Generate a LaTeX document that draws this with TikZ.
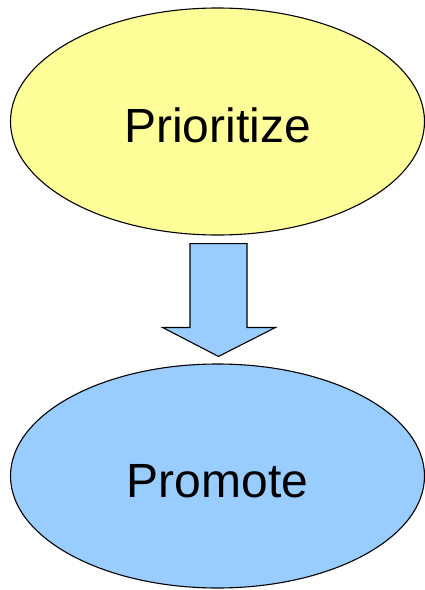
\documentclass[tikz,border=0pt]{standalone}
\usepackage{fontspec}
\setmainfont{Liberation Sans}
\usetikzlibrary{shapes, arrows.meta, positioning, calc}
\definecolor{stepyellow}{HTML}{FFFF99}
\definecolor{stepblue}{HTML}{99CCFF}

\begin{document}
\begin{tikzpicture}[x=1pt,y=-1pt,
        phase/.style={draw,ellipse,line width=1.1pt,minimum width=414pt,
          inner sep=0pt,font=\fontsize{48}{48}\selectfont,
          text height=42pt,text depth=0pt},
        blockarrow/.style={draw,line width=1.1pt,fill=stepblue,line join=miter}]
      \useasboundingbox (0,0) rectangle (425,590);
      \node[phase,fill=stepyellow,minimum height=227pt] (prio) at (217.5,121.5) {Prioritize};
      \node[phase,fill=stepblue,minimum height=224pt] (promo) at (217.5,476) {Promote};
      \coordinate (start) at ($(prio.south)+(1,8)$);
      \coordinate (tip) at ($(promo.north)+(1,-7)$);
      \draw[blockarrow] ($(start)+(-28.5,0)$) -- ($(start)+(28.5,0)$)
        -- ($(tip)+(28.5,-29)$) -- ($(tip)+(57,-29)$) -- (tip)
        -- ($(tip)+(-56,-29)$) -- ($(tip)+(-28.5,-29)$) -- cycle;
    \end{tikzpicture}
\end{document}
